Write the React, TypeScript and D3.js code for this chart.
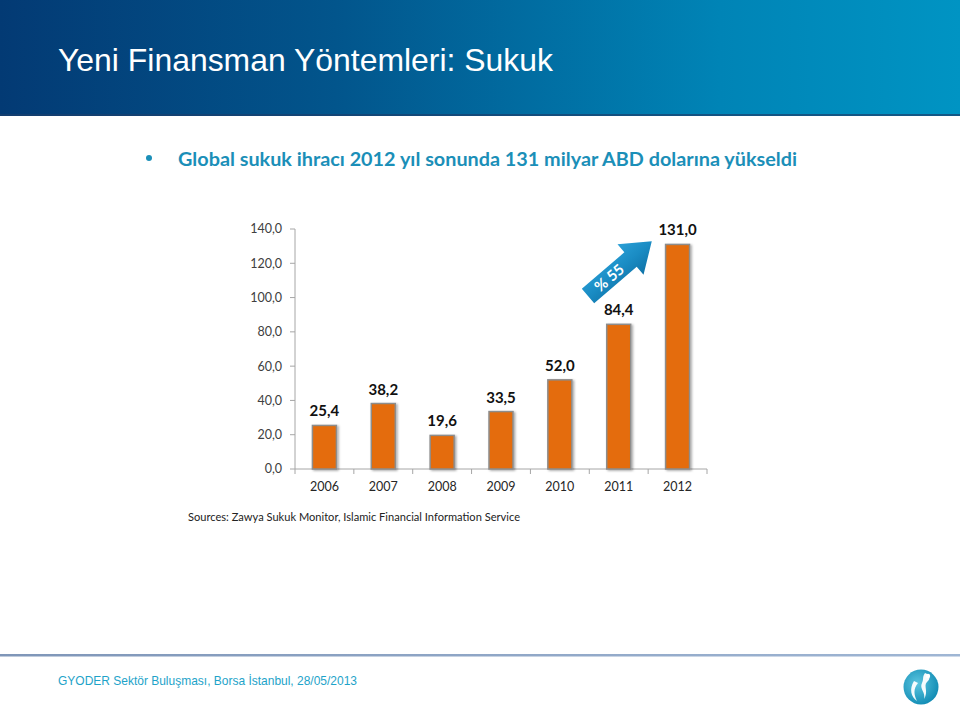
import React from 'react';
import * as d3 from 'd3';

const years = ['2006', '2007', '2008', '2009', '2010', '2011', '2012'];
const values = [25.4, 38.2, 19.6, 33.5, 52.0, 84.4, 131.0];
const yTicks = [0, 20, 40, 60, 80, 100, 120, 140];
const titleText = 'Yeni Finansman Yöntemleri: Sukuk';
const subtitleText = 'Global sukuk ihracı 2012 yıl sonunda 131 milyar ABD dolarına yükseldi';
const sourceText = 'Sources: Zawya Sukuk Monitor, Islamic Financial Information Service';
const footerText = 'GYODER Sektör Buluşması, Borsa İstanbul, 28/05/2013';
const growthText = '% 55';

const locale = d3.formatLocale({ decimal: ',', thousands: '.', grouping: [3], currency: ['', ''] });
const fmt = locale.format('.1f');

export default function App() {
  const W = 960, H = 707;
  const x = d3.scaleBand<string>().domain(years).range([295, 707]).paddingInner(0).paddingOuter(0);
  const y = d3.scaleLinear().domain([0, 140]).range([469, 229]);
  const barW = 24;
  const chartFont = 'Lato, "Open Sans", sans-serif';

  const arrowPath = 'M0,-9.5 L56,-9.5 L56,-20 L84,0 L56,20 L56,9.5 L0,9.5 Z';

  return (
    <svg width={W} height={H} style={{ position: 'absolute', left: 0, top: 0, background: '#fff' }}>
      <defs>
        <linearGradient id="hdr" x1="0" x2="1" y1="0" y2="0">
          <stop offset="0" stopColor="#033a74" />
          <stop offset="0.35" stopColor="#02558c" />
          <stop offset="0.75" stopColor="#0084b6" />
          <stop offset="1" stopColor="#0094c3" />
        </linearGradient>
        <linearGradient id="ftl" x1="0" x2="1" y1="0" y2="0">
          <stop offset="0" stopColor="#7f96b8" />
          <stop offset="1" stopColor="#9fb6d4" />
        </linearGradient>
        <linearGradient id="arr" x1="0" x2="0" y1="0" y2="1">
          <stop offset="0" stopColor="#2a9fd6" />
          <stop offset="0.5" stopColor="#1a8cc4" />
          <stop offset="1" stopColor="#0f73a8" />
        </linearGradient>
        <radialGradient id="logo" cx="0.4" cy="0.4" r="0.7">
          <stop offset="0" stopColor="#5cc6e0" />
          <stop offset="1" stopColor="#0a86b0" />
        </radialGradient>
        <filter id="sh" x="-30%" y="-10%" width="160%" height="130%">
          <feDropShadow dx="1.5" dy="1" stdDeviation="1.2" floodColor="#000" floodOpacity="0.35" />
        </filter>
      </defs>

      {/* header */}
      <rect x={0} y={0} width={W} height={116} fill="url(#hdr)" />
      <rect x={0} y={114} width={W} height={2} fill="#1b3f6c" opacity={0.7} />
      <text x={58} y={71} fill="#fff" fontFamily='"Liberation Sans", Arial, sans-serif' fontSize={32}
        textLength={495} lengthAdjust="spacingAndGlyphs">{titleText}</text>

      {/* subtitle */}
      <circle cx={149} cy={158} r={3} fill="#1b8fb8" />
      <text x={178} y={166} fill="#1b8fb8" fontFamily={chartFont} fontWeight={700} fontSize={18}
        textLength={619} lengthAdjust="spacingAndGlyphs">{subtitleText}</text>

      {/* y axis */}
      <line x1={295} x2={295} y1={y(140)} y2={y(0)} stroke="#a6a6a6" strokeWidth={1} />
      {yTicks.map(t => (
        <g key={t}>
          <line x1={290} x2={295} y1={y(t)} y2={y(t)} stroke="#a6a6a6" />
          <text x={282} y={y(t)} dy="0.35em" textAnchor="end" fontFamily={chartFont} fontSize={12.5}
            fill="#404040">{fmt(t)}</text>
        </g>
      ))}

      {/* x axis */}
      <line x1={295} x2={707} y1={y(0)} y2={y(0)} stroke="#a6a6a6" />
      {years.map(yr => (
        <line key={'t' + yr} x1={x(yr)!} x2={x(yr)!} y1={y(0)} y2={y(0) + 5} stroke="#a6a6a6" />
      ))}
      <line x1={707} x2={707} y1={y(0)} y2={y(0) + 5} stroke="#a6a6a6" />
      {years.map(yr => (
        <text key={'l' + yr} x={x(yr)! + x.bandwidth() / 2} y={491} textAnchor="middle"
          fontFamily={chartFont} fontSize={12.5} fill="#262626">{yr}</text>
      ))}

      {/* bars */}
      {years.map((yr, i) => {
        const cx = x(yr)! + x.bandwidth() / 2;
        return (
          <g key={'b' + yr}>
            <rect x={cx - barW / 2} y={y(values[i])} width={barW} height={y(0) - y(values[i])}
              fill="#e46c0a" stroke="#8d8d8d" strokeWidth={1.5} filter="url(#sh)" />
            <text x={cx} y={y(values[i]) - 9} textAnchor="middle" fontFamily={chartFont}
              fontWeight={700} fontSize={15} fill="#111">{fmt(values[i])}</text>
          </g>
        );
      })}

      {/* growth arrow */}
      <g transform="translate(588,296) rotate(-40.6)">
        <path d={arrowPath} fill="url(#arr)" />
        <text x={28} y={0} dy="0.36em" textAnchor="middle" fontFamily={chartFont} fontWeight={700}
          fontSize={15} fill="#fff">{growthText}</text>
      </g>

      {/* source */}
      <text x={188} y={521} fontFamily={chartFont} fontSize={11.5} fill="#222"
        textLength={332} lengthAdjust="spacingAndGlyphs">{sourceText}</text>

      {/* footer */}
      <rect x={0} y={654} width={W} height={2.5} fill="url(#ftl)" />
      <text x={58} y={685} fontFamily='"Liberation Sans", Arial, sans-serif' fontSize={13} fill="#1ea3c9"
        textLength={299} lengthAdjust="spacingAndGlyphs">{footerText}</text>

      {/* logo */}
      <g transform="translate(921,687)">
        <circle r={17.5} fill="url(#logo)" />
        <path d="M-7,-6 C-12,2 -10,10 -4,14 C-7,8 -8,2 -3,-4 Z" fill="#fff" opacity={0.95} />
        <path d="M4,-14 C9,-12 10,-8 6,-5 C2,-1 8,4 3,12 C5,5 -2,2 1,-4 C3,-8 1,-10 4,-14 Z" fill="#fff" opacity={0.95} />
        <circle cx={7} cy={-11} r={2.2} fill="#fff" />
      </g>
    </svg>
  );
}
